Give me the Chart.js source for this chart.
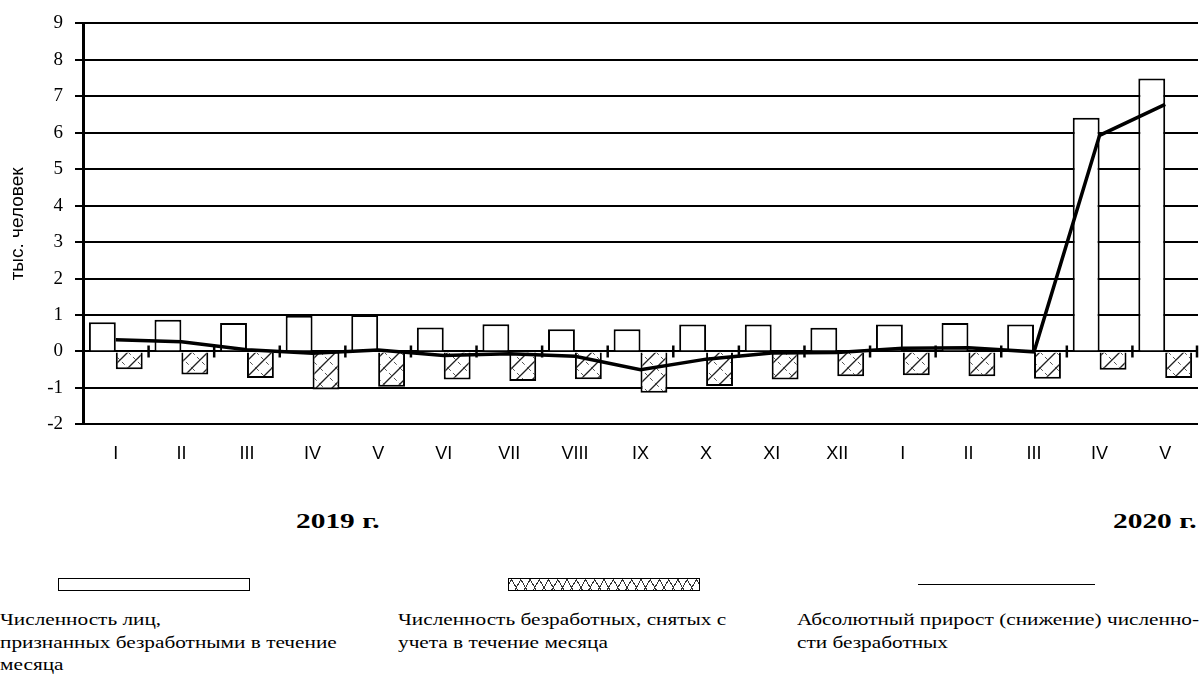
<!DOCTYPE html>
<html>
<head>
<meta charset="utf-8">
<script src="https://cdn.jsdelivr.net/npm/chart.js@4.4.1/dist/chart.umd.min.js"></script>
<style>
body { margin: 0; background: #fff; width: 1200px; height: 676px; position: relative; overflow: hidden; font-family: "Liberation Serif", serif; color: #000; }
#wrap { position: absolute; left: 0; top: 0; width: 1200px; height: 484px; }
.year { position: absolute; top: 509px; font-weight: bold; font-size: 21px; transform: scaleX(1.4); transform-origin: left top; white-space: nowrap; }
.sw { position: absolute; top: 578px; width: 190px; height: 11px; border: 1.5px solid #000; background: #fff; }
.hatch { background:
    repeating-linear-gradient(60deg, transparent 0 7px, #333 7px 8px),
    repeating-linear-gradient(-60deg, transparent 0 7px, #333 7px 8px), #fff; }
.ln { position: absolute; top: 584px; left: 918px; width: 177px; height: 0; border-top: 1.5px solid #000; }
.lg { position: absolute; top: 609px; font-size: 16px; line-height: 22.5px; transform: scaleX(1.33); transform-origin: left top; white-space: nowrap; }
</style>
</head>
<body>
<div id="wrap"><canvas id="mainChart"></canvas></div>

<div class="year" style="left:296px">2019 г.</div>
<div class="year" style="left:1113px">2020 г.</div>

<div class="sw" style="left:58px"></div>
<div class="sw hatch" style="left:508px"></div>
<div class="ln"></div>

<div class="lg" style="left:0px">Численность лиц,<br>признанных безработными в течение<br>месяца</div>
<div class="lg" style="left:398px">Численность безработных, снятых с<br>учета в течение месяца</div>
<div class="lg" style="left:797px">Абсолютный прирост (снижение) численно-<br>сти безработных</div>

<script>
// months: I..XII of 2019, then I..V of 2020
const months = ["I", "II", "III", "IV", "V", "VI", "VII", "VIII", "IX", "X", "XI", "XII",
                "I", "II", "III", "IV", "V"]

// thousand people
const recognized = [0.80, 0.87, 0.78, 0.98, 1.00, 0.66, 0.75, 0.61, 0.61, 0.74, 0.74, 0.65,
                    0.74, 0.78, 0.74, 6.41, 7.49]
const removed = [-0.49, -0.63, -0.73, -1.04, -0.97, -0.77, -0.81, -0.76, -1.13, -0.95, -0.77, -0.68,
                 -0.65, -0.68, -0.75, -0.50, -0.73]
const netChange = [0.32, 0.27, 0.05, -0.05, 0.04, -0.11, -0.06, -0.13, -0.50, -0.21, -0.04, -0.03,
                   0.09, 0.10, -0.01, 5.93, 6.78]

const yMin = -2
const yMax = 9

function makeHatch() {
    const c = document.createElement('canvas')
    c.width = 16
    c.height = 16
    const g = c.getContext('2d')
    g.fillStyle = '#fff'
    g.fillRect(0, 0, 16, 16)
    g.strokeStyle = '#222'
    g.lineWidth = 1.3
    g.beginPath()
    g.moveTo(0, 16); g.lineTo(16, 0)
    g.stroke()
    g.strokeStyle = '#555'
    g.lineWidth = 1
    g.setLineDash([4, 3])
    g.beginPath()
    g.moveTo(0, 0); g.lineTo(16, 16)
    g.stroke()
    return g.createPattern(c, 'repeat')
}

// small ticks on the zero line between the months
const zeroTicks = {
    id: 'zeroTicks',
    afterDatasetsDraw(chart) {
        const x = chart.scales.x
        const y0 = chart.scales.y.getPixelForValue(0)
        const ctx = chart.ctx
        ctx.save()
        ctx.strokeStyle = '#000'
        ctx.lineWidth = 2.5
        for (let i = 0; i < months.length; i++) {
            const xb = i < months.length - 1
                ? (x.getPixelForValue(i) + x.getPixelForValue(i + 1)) / 2
                : chart.chartArea.right - 1
            ctx.beginPath()
            ctx.moveTo(xb, y0 - 6)
            ctx.lineTo(xb, y0 + 6)
            ctx.stroke()
        }
        ctx.restore()
    }
}

const ctx = document.getElementById('mainChart').getContext('2d')
window.myChart = new Chart(ctx, {
    type: 'bar',
    data: {
        labels: months,
        datasets: [
            {
                type: 'line',
                label: 'Абсолютный прирост (снижение) численности безработных',
                data: netChange,
                borderColor: '#000',
                borderWidth: 3.5,
                pointRadius: 0,
                tension: 0,
                order: 0
            },
            {
                label: 'Численность лиц, признанных безработными в течение месяца',
                data: recognized,
                backgroundColor: '#fff',
                borderColor: '#000',
                borderWidth: 2,
                order: 1
            },
            {
                label: 'Численность безработных, снятых с учета в течение месяца',
                data: removed,
                backgroundColor: makeHatch(),
                borderColor: '#000',
                borderWidth: 2,
                order: 1
            }
        ]
    },
    options: {
        responsive: true,
        maintainAspectRatio: false,
        animation: false,
        layout: { padding: { top: 19, right: 2, left: 0, bottom: 0 } },
        datasets: { bar: { categoryPercentage: 0.82, barPercentage: 1 } },
        plugins: { legend: { display: false }, tooltip: { enabled: false } },
        scales: {
            x: {
                grid: { display: false, drawTicks: false },
                border: { display: false },
                ticks: {
                    color: '#000',
                    font: { family: 'Liberation Sans', size: 18 },
                    padding: 19,
                    maxRotation: 0,
                    autoSkip: false
                }
            },
            y: {
                min: yMin,
                max: yMax,
                afterFit(s) { s.width = 83 },
                ticks: {
                    stepSize: 1,
                    color: '#000',
                    font: { family: 'Liberation Serif', size: 19 },
                    padding: 12
                },
                grid: { color: '#000', lineWidth: 2, tickLength: 8 },
                border: { color: '#000', width: 3 },
                title: {
                    display: true,
                    text: 'тыс. человек',
                    color: '#000',
                    font: { family: 'Liberation Sans', size: 19 },
                    padding: { top: 6, bottom: 0 }
                }
            }
        }
    },
    plugins: [zeroTicks]
})
</script>
</body>
</html>
